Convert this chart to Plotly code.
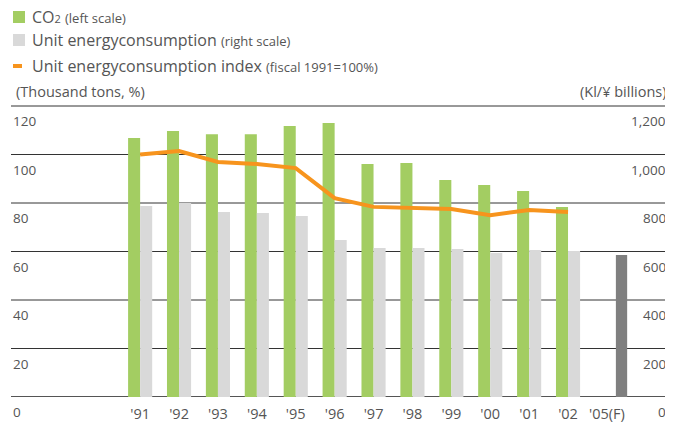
import plotly.graph_objects as go

years = ["'91", "'92", "'93", "'94", "'95", "'96", "'97", "'98", "'99", "'00", "'01", "'02"]
co2 = [106.8, 109.7, 108.4, 108.4, 111.8, 113.0, 96.1, 96.5, 89.5, 87.4, 85.0, 78.4]
unit_energy = [788, 800, 763, 759, 746, 647, 614, 614, 610, 594, 606, 602]
unit_index = [100.0, 101.4, 96.9, 96.1, 94.4, 82.0, 78.4, 78.0, 77.5, 75.0, 77.1, 76.3]
forecast_cat = ["'05(F)"]
forecast_co2 = [58.6]
all_cats = years + forecast_cat
left_ticks = [0, 20, 40, 60, 80, 100, 120]
right_ticks = [0, 200, 400, 600, 800, 1000, 1200]
legend_labels = [
    "CO<span style='font-size:11px'>2</span> <span style='font-size:13px'>(left scale)</span>",
    "Unit energyconsumption <span style='font-size:13px'>(right scale)</span>",
    "Unit energyconsumption index <span style='font-size:13px'>(fiscal 1991=100%)</span>",
]

FONT = "Open Sans"
TXT = "#555555"
GREEN = "#a3cd62"
LGRAY = "#d9d9d9"
DGRAY = "#7f7f7f"
ORANGE = "#f7941d"

# figure geometry (page body adds an 8px offset)
W, H = 665, 414
ML, MR, MT, MB = 3, 5, 88, 25
PW = W - ML - MR
PH = H - MT - MB
OFF = 8
PX_PER_UNIT = 2.425
YTOP = PH / PX_PER_UNIT


def px_x(x):  # page px -> paper x
    return (x - OFF - ML) / PW


def px_y(y):  # page px -> paper y
    return (H - MB - (y - OFF)) / PH


fig = go.Figure()
fig.add_trace(go.Bar(
    x=years, y=co2, name="CO2", showlegend=False,
    marker_color=GREEN, marker_line_width=0, offset=-0.31, width=0.31, yaxis="y"))
fig.add_trace(go.Bar(
    x=years, y=unit_energy, name="Unit energyconsumption", showlegend=False,
    marker_color=LGRAY, marker_line_width=0, offset=0.0, width=0.31, yaxis="y2"))
fig.add_trace(go.Bar(
    x=forecast_cat, y=forecast_co2, showlegend=False,
    marker_color=DGRAY, marker_line_width=0, offset=0.23, width=0.29, yaxis="y"))
fig.add_trace(go.Scatter(
    x=years, y=unit_index, mode="lines", name="Unit energyconsumption index",
    showlegend=False, line=dict(color=ORANGE, width=4), yaxis="y"))

annotations = []
shapes = []

# gridlines (drawn beneath the bars)
for v in left_ticks:
    shapes.append(dict(type="line", xref="paper", yref="y", x0=0, x1=1, y0=v, y1=v,
                       layer="below",
                       line=dict(color="#555555" if v == 0 else "#333333",
                                 width=2 if v == 0 else 1)))

# manual legend
legend_y = [17, 40, 66]
swatch_col = [GREEN, LGRAY, ORANGE]
for i, (lab, yc, col) in enumerate(zip(legend_labels, legend_y, swatch_col)):
    annotations.append(dict(text=lab, xref="paper", yref="paper", x=px_x(30), y=px_y(yc),
                            xanchor="left", yanchor="middle", showarrow=False,
                            font=dict(size=16, color=TXT)))
    if i < 2:
        shapes.append(dict(type="rect", xref="paper", yref="paper",
                           x0=px_x(13), x1=px_x(25), y0=px_y(yc - 6), y1=px_y(yc + 6),
                           fillcolor=col, line_width=0))
    else:
        shapes.append(dict(type="rect", xref="paper", yref="paper",
                           x0=px_x(13), x1=px_x(22), y0=px_y(yc - 2), y1=px_y(yc + 2),
                           fillcolor=col, line_width=0))

annotations.append(dict(text="(Thousand tons, %)", xref="paper", yref="paper", x=px_x(14),
                        y=px_y(92), xanchor="left", yanchor="middle", showarrow=False,
                        font=dict(size=14.5, color=TXT)))
annotations.append(dict(text="(Kl/¥ billions)", xref="paper", yref="paper", x=px_x(669),
                        y=px_y(92), xanchor="right", yanchor="middle", showarrow=False,
                        font=dict(size=14.5, color=TXT)))

# y tick labels sit below their gridlines
for v in left_ticks:
    annotations.append(dict(text=str(v), xref="paper", yref="y", x=0, y=v, yshift=-15,
                            xanchor="left", yanchor="middle", showarrow=False,
                            font=dict(size=13.5, color=TXT)))
for v in right_ticks:
    annotations.append(dict(text=f"{v:,}", xref="paper", yref="y2", x=1, y=v, yshift=-15,
                            xanchor="right", yanchor="middle", showarrow=False,
                            font=dict(size=13.5, color=TXT)))

fig.update_layout(
    width=W, height=H,
    margin=dict(l=ML, r=MR, t=MT, b=MB, autoexpand=False),
    paper_bgcolor="white", plot_bgcolor="white",
    barmode="overlay",
    font=dict(family=FONT, color=TXT, size=13),
    showlegend=False,
    xaxis=dict(type="category", categoryorder="array", categoryarray=all_cats,
               range=[-3.32, 13.57], showgrid=False, zeroline=False, showline=False,
               ticks="", tickfont=dict(size=14.5, color=TXT), ticklabelstandoff=6),
    yaxis=dict(range=[0, YTOP], showgrid=False, zeroline=False,
               showticklabels=False, showline=False),
    yaxis2=dict(range=[0, YTOP * 10], overlaying="y", side="right", showgrid=False,
                zeroline=False, showticklabels=False, showline=False),
    annotations=annotations,
    shapes=shapes,
)

fig.write_html("out.html")
